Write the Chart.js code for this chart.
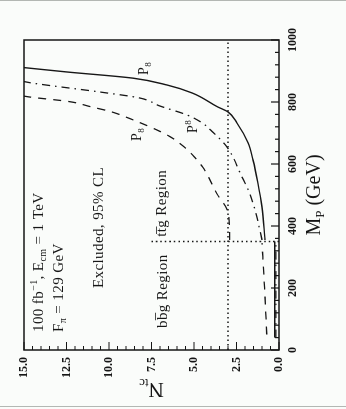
<!DOCTYPE html>
<html>
<head>
<meta charset="utf-8">
<script src="https://cdn.jsdelivr.net/npm/chart.js@4.4.1/dist/chart.umd.min.js"></script>
<style>
  html, body { margin: 0; padding: 0; background: #fafcfa; }
  #page { position: relative; width: 346px; height: 409px; overflow: hidden; }
  #wrap { position: absolute; left: 0; top: 0; width: 409px; height: 346px;
          transform-origin: 0 0; transform: translateY(409px) rotate(-90deg); }
  .rule { position: absolute; left: 0; width: 346px; height: 1px; background: #b3b7b3; }
</style>
</head>
<body>
<div id="page">
  <div id="wrap"><canvas id="chart" width="409" height="346"></canvas></div>
  <div class="rule" style="top:0"></div>
  <div class="rule" style="top:406px"></div>
</div>
<script>
// axis ticks
const mpTicks = [0, 200, 400, 600, 800, 1000];
const ntcTicks = [0, 2.5, 5, 7.5, 10, 12.5, 15];

// P8 (solid) - ttg branch and bbg branch
const mpP8 = [355, 461, 539, 613, 668, 732, 768, 784, 829, 855, 877, 897, 911];
const ntcP8 = [0.82, 1.0, 1.24, 1.53, 1.82, 2.47, 3.0, 3.6, 5.1, 6.6, 8.6, 12.5, 15];
const mpP8Low = [40, 350];
const ntcP8Low = [0.25, 0.25];

// dash-dot curve
const mpP0 = [355, 452, 510, 561, 658, 703, 732, 758, 787, 813, 832, 861, 866];
const ntcP0 = [1.0, 1.41, 1.76, 2.2, 3.1, 3.9, 4.5, 5.4, 7.0, 8.2, 10.5, 14.5, 15];
const mpP0Low = [40, 350];
const ntcP0Low = [0.18, 0.18];

// dashed curve
const mpP80 = [355, 441, 505, 591, 624, 656, 688, 720, 747, 769, 785, 801, 816, 819];
const ntcP80 = [2.9, 2.98, 3.66, 4.5, 5.0, 5.6, 6.4, 7.6, 8.8, 9.9, 11.1, 12.3, 14.65, 15];
const mpP80Low = [50, 200, 345];
const ntcP80Low = [0.72, 0.85, 1.0];

// dotted guide lines
const mpLimit = [0, 1000];
const ntcLimit = [3, 3];
const mpThreshold = [350, 350];
const ntcThreshold = [0, 7.5];

const INK = "#161616";
const SERIF = '"Liberation Serif", "Times New Roman", serif';

function pts(xs, ys) {
    return xs.map((x, i) => ({ x: x, y: ys[i] }));
}

function line(data, dash, width) {
    return {
        data: data,
        borderColor: INK,
        borderWidth: width || 1.3,
        borderDash: dash || [],
        pointRadius: 0,
        fill: false,
        cubicInterpolationMode: "monotone"
    };
}

// text pieces: [text, size, shift]
function drawParts(ctx, parts, x, y) {
    let cx = x;
    parts.forEach(p => {
        ctx.font = p[1] + "px " + SERIF;
        ctx.fillText(p[0], cx, y + (p[2] || 0));
        cx += ctx.measureText(p[0]).width;
    });
    return cx - x;
}

function partsWidth(ctx, parts) {
    let w = 0;
    parts.forEach(p => {
        ctx.font = p[1] + "px " + SERIF;
        w += ctx.measureText(p[0]).width;
    });
    return w;
}

const notes = [
    { parts: [["100 fb", 15], ["\u22121", 10, -6], [", E", 15], ["cm", 10, 3], [" = 1 TeV", 15]], m: 58, n: 14.2 },
    { parts: [["F", 15], ["\u03c0", 10, 3], [" = 129 GeV", 15]], m: 58, n: 13.0 },
    { parts: [["Excluded, 95% CL", 15]], m: 200, n: 10.65 },
    { parts: [["bb\u0305g Region", 15]], m: 71, n: 6.9 },
    { parts: [["tt\u0305g Region", 15]], m: 365, n: 6.95 },
    { parts: [["P", 14], ["8", 9, 3]], m: 887, n: 8.0 },
    { parts: [["P", 14], ["8", 9, 3]], m: 674, n: 8.4 },
    { parts: [["P", 14], ["8", 9, -6]], m: 700, n: 5.1 }
];

const decor = {
    id: "decor",
    afterDatasetsDraw(chart) {
        const ctx = chart.ctx;
        const xs = chart.scales.x, ys = chart.scales.y;
        const a = chart.chartArea;
        ctx.save();
        ctx.strokeStyle = INK;
        ctx.fillStyle = INK;

        // frame
        ctx.lineWidth = 1.5;
        ctx.strokeRect(a.left, a.top, a.right - a.left, a.bottom - a.top);

        // inward ticks
        ctx.lineWidth = 1.2;
        ctx.beginPath();
        for (let k = 0; k <= 25; k++) {
            const px = xs.getPixelForValue(k * 40);
            const len = k % 5 === 0 ? 8 : 4;
            ctx.moveTo(px, a.bottom);
            ctx.lineTo(px, a.bottom - len);
        }
        for (let k = 0; k <= 30; k++) {
            const py = ys.getPixelForValue(k * 0.5);
            const len = k % 5 === 0 ? 8 : 4;
            ctx.moveTo(a.left, py);
            ctx.lineTo(a.left + len, py);
        }
        ctx.stroke();

        // axis titles
        ctx.textBaseline = "alphabetic";
        ctx.textAlign = "left";
        const xt = [["M", 20], ["P", 13, 4], [" (GeV)", 20]];
        drawParts(ctx, xt, (a.left + a.right) / 2 - partsWidth(ctx, xt) / 2, 320);

        const yt = [["N", 21], ["tc", 13, 4]];
        ctx.save();
        ctx.translate(26, (a.top + a.bottom) / 2);
        ctx.rotate(-Math.PI / 2);
        drawParts(ctx, yt, -partsWidth(ctx, yt) / 2, 0);
        ctx.restore();

        // notes and curve labels
        ctx.letterSpacing = "0.4px";
        notes.forEach(nt => {
            const x = xs.getPixelForValue(nt.m);
            const y = ys.getPixelForValue(nt.n) + nt.parts[0][1] * 0.33;
            drawParts(ctx, nt.parts, x, y);
        });
        ctx.restore();
    }
};

new Chart(document.getElementById("chart"), {
    type: "line",
    data: {
        datasets: [
            line(pts(mpP8, ntcP8), [], 1.4),
            line(pts(mpP8Low, ntcP8Low), [], 1.4),
            line(pts(mpP0, ntcP0), [8, 5, 1.5, 5]),
            line(pts(mpP0Low, ntcP0Low), [8, 5, 1.5, 5]),
            line(pts(mpP80, ntcP80), [8, 7]),
            line(pts(mpP80Low, ntcP80Low), [8, 7]),
            line(pts(mpLimit, ntcLimit), [1.5, 3], 1.5),
            line(pts(mpThreshold, ntcThreshold), [1.5, 3], 1.5)
        ]
    },
    options: {
        responsive: false,
        animation: false,
        devicePixelRatio: 1,
        layout: { padding: { top: 24, right: 40, left: 0, bottom: 0 } },
        plugins: { legend: { display: false }, tooltip: { enabled: false } },
        scales: {
            x: {
                type: "linear", min: 0, max: 1000,
                afterBuildTicks: s => { s.ticks = mpTicks.map(v => ({ value: v })); },
                afterFit: s => { s.height = 67; },
                grid: { display: false, drawTicks: false },
                border: { display: false },
                ticks: { color: INK, padding: 7, maxRotation: 0, font: { family: SERIF, size: 12, weight: "bold" },
                         callback: v => String(v) }
            },
            y: {
                type: "linear", min: 0, max: 15,
                afterBuildTicks: s => { s.ticks = ntcTicks.map(v => ({ value: v })); },
                afterFit: s => { s.width = 59; },
                grid: { display: false, drawTicks: false },
                border: { display: false },
                ticks: { color: INK, padding: 7, font: { family: SERIF, size: 12, weight: "bold" },
                         callback: v => Number(v).toFixed(1) }
            }
        }
    },
    plugins: [decor]
});
</script>
</body>
</html>
